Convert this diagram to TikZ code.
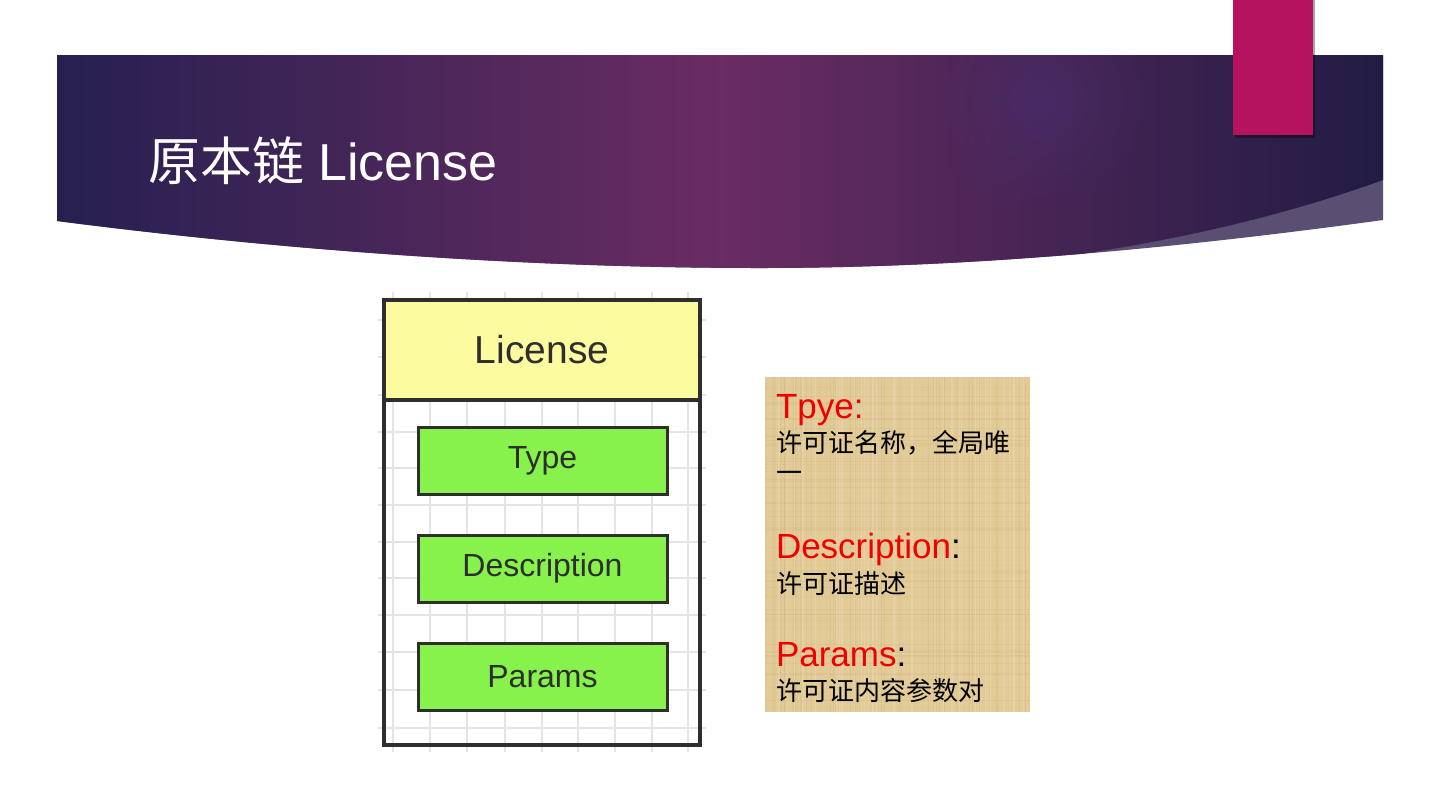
\documentclass[tikz,border=0pt]{standalone}
\usepackage{fontspec}
\setmainfont{Liberation Sans}
\newfontfamily\cjk{Noto Sans CJK SC}
\usetikzlibrary{fadings}

\definecolor{bandnavy}{HTML}{262050}
\definecolor{bandplum}{HTML}{6A2C62}
\definecolor{bandright}{HTML}{221C45}
\definecolor{bandlight}{HTML}{5A4E72}
\definecolor{glowc}{HTML}{4A2E6E}
\definecolor{magbar}{HTML}{B5135F}
\definecolor{hdryellow}{HTML}{FCFBA0}
\definecolor{fieldgreen}{HTML}{88F24C}
\definecolor{inkgray}{HTML}{2E2E2E}
\definecolor{gridgray}{HTML}{E4E4E4}
\definecolor{paper}{HTML}{E2CB97}
\definecolor{paperdark}{HTML}{9C7E48}
\definecolor{labelred}{HTML}{F00000}

\tikzfading[name=glowfade, inner color=transparent!40, outer color=transparent!100]

\begin{document}
\begin{tikzpicture}[x=0.5pt,y=-0.5pt,
  every node/.style={inner sep=0pt, outer sep=0pt},
  umlbox/.style={draw=inkgray, line width=1.7pt, minimum width=158pt},
  fieldbox/.style={draw=inkgray, line width=1.5pt, fill=fieldgreen, minimum width=124.5pt,
    minimum height=33.5pt, text=inkgray, font=\fontsize{16}{19}\selectfont},
  keytext/.style={anchor=base west, text=labelred, font=\fontsize{17.5}{20}\selectfont},
  valtext/.style={anchor=base west, text=black, font=\cjk\fontsize{13}{16}\selectfont},
  gridline/.style={gridgray, line width=0.6pt}]

\useasboundingbox (0,0) rectangle (1440,810);

% title band
\fill[bandlight] (57,55) -- (1383,55) -- (1383,220) .. controls (1150,252) and (950,268) .. (760,268)
  .. controls (500,268) and (250,246) .. (57,221) -- cycle;
\begin{scope}
\clip (57,55) -- (1383,55) -- (1383,220) .. controls (1150,252) and (950,268) .. (760,268)
  .. controls (500,268) and (250,246) .. (57,221) -- cycle;
\shade[left color=bandnavy, right color=bandright, middle color=bandplum]
  (57,55) -- (1383,55) -- (1383,180) .. controls (1250,228) and (1100,258) .. (900,275) -- (57,300) -- cycle;
\fill[glowc, path fading=glowfade] (1040,100) circle (115);
\end{scope}

\fill[black, opacity=0.35] (1235,0) rectangle (1315,138);
\fill[magbar] (1233,0) rectangle (1313,135);

\node[anchor=base west, text=white, font=\fontsize{26}{30}\selectfont] (title) at (148,180) {{\cjk 原本链} License};

% class diagram
\begin{scope}
\clip (378,292) rectangle (706,752);
\foreach \gx in {393,430,467,505,542,578,615,652,688}
  \draw[gridline] (\gx,292) -- (\gx,752);
\foreach \gy in {320,357,395,432,468,505,542,578,615,652,690,728}
  \draw[gridline] (378,\gy) -- (706,\gy);
\end{scope}

\node[umlbox, minimum height=222.5pt] (body) at (542,522.5) {};
\node[umlbox, minimum height=50pt, fill=hdryellow, text=inkgray, font=\fontsize{19.5}{23}\selectfont] (head) at (542,350) {License};
\node[fieldbox] (ftype) at (542.5,460.5) {Type};
\node[fieldbox] (fdesc) at (542.5,568.5) {Description};
\node[fieldbox] (fparm) at (542.5,677) {Params};

% notes
\node[fill=paper, minimum width=132.5pt, minimum height=167.5pt] (note) at (897.5,544.5) {};
\begin{scope}
\clip (765,377) rectangle (1030,712);
\pgfmathsetseed{7}
\foreach \i in {1,...,60} {
  \pgfmathsetmacro\px{765+265*rnd}
  \pgfmathsetmacro\op{0.02+0.07*rnd}
  \draw[paperdark, opacity=\op, line width=0.4pt] (\px,377) -- (\px,712);
}
\foreach \i in {1,...,70} {
  \pgfmathsetmacro\py{377+335*rnd}
  \pgfmathsetmacro\op{0.02+0.07*rnd}
  \draw[paperdark, opacity=\op, line width=0.4pt] (765,\py) -- (1030,\py);
}
\foreach \i in {1,...,40} {
  \pgfmathsetmacro\px{765+265*rnd}
  \draw[white, opacity=0.12, line width=0.6pt] (\px,377) -- (\px,712);
}
\end{scope}

\node[keytext] (ktype) at (776,418) {Tpye:};
\node[valtext] (vtype) at (776,452) {许可证名称，全局唯};
\node[valtext] (vtype2) at (776,482) {一};
\node[keytext] (kdesc) at (776,558) {Description\textcolor{black}{:}};
\node[valtext] (vdesc) at (776,593) {许可证描述};
\node[keytext] (kparm) at (776,666) {Params\textcolor{black}{:}};
\node[valtext] (vparm) at (776,700) {许可证内容参数对};
\end{tikzpicture}
\end{document}
